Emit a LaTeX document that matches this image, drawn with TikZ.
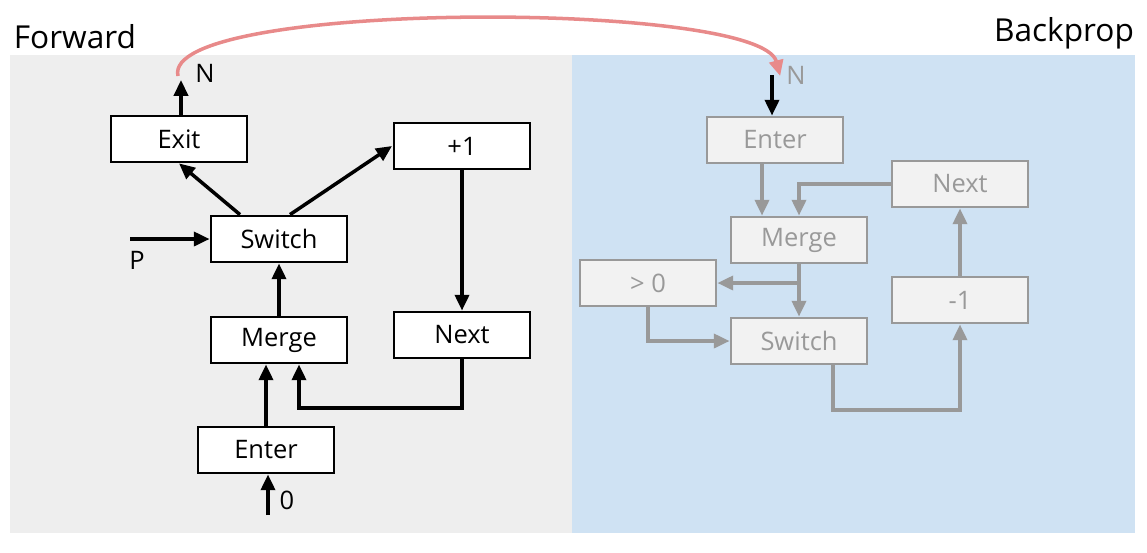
\documentclass[tikz,border=0pt]{standalone}
\usepackage{fontspec}
\setmainfont{Open Sans}
\usepackage{tikz}
\usetikzlibrary{arrows.meta,positioning}
\definecolor{panelgray}{HTML}{EEEEEE}
\definecolor{panelblue}{HTML}{CFE2F3}
\definecolor{ghost}{HTML}{999999}
\definecolor{boxfill}{HTML}{F2F2F2}
\definecolor{loopred}{HTML}{E88A8A}
\tikzset{
  op/.style={draw, line width=1.6pt, fill=white, minimum width=2.72cm, minimum height=0.92cm, inner sep=0pt, font=\fontsize{14.5}{16}\selectfont},
  gop/.style={op, draw=ghost, fill=boxfill, text=ghost},
  fwd/.style={-{Triangle[length=9pt,width=8pt]}, line width=2pt},
  bwd/.style={fwd, ghost},
  lbl/.style={font=\fontsize{14.5}{16}\selectfont}
}
\begin{document}
\begin{tikzpicture}[x=0.02cm,y=-0.02cm]
      \useasboundingbox (0,0) rectangle (1147,552);
      \fill[panelgray] (10,55) rectangle (572,533);
      \fill[panelblue] (572,55) rectangle (1135,533);
      \node[lbl, font=\fontsize{18}{20}\selectfont] (fw) at (75,37) {Forward};
      \node[lbl, font=\fontsize{18}{20}\selectfont] (bp) at (1064,33) {Backprop};

      % forward loop
      \node[op] (exit) at (179,139) {Exit};
      \node[op] (inc) at (462,146) {+1};
      \node[op] (sw) at (279,239) {Switch};
      \node[op] (mrg) at (279,340) {Merge};
      \node[op] (nxt) at (462,335) {Next};
      \node[op] (ent) at (266,450) {Enter};
      \coordinate (nout) at (181,80);
      \node[lbl] (nlab) at (205,73) {N};
      \coordinate (pin) at (130,239);
      \node[lbl] (plab) at (137,260) {P};
      \coordinate (zin) at (268,515);
      \node[lbl] (zlab) at (287,500) {0};

      \draw[fwd] (exit.north -| nout) -- (nout);
      \draw[fwd] (sw.north -| 240,0) -- (exit.south);
      \draw[fwd] (sw.north -| 290,0) -- (inc.west -| 392,0);
      \draw[fwd] (pin) -- (sw.west);
      \draw[fwd] (mrg) -- (sw);
      \draw[fwd] (inc) -- (nxt);
      \draw[fwd] (nxt.south) |- (299,408) -- (mrg.south -| 299,0);
      \draw[fwd] (ent.north) -- (mrg.south -| ent.north);
      \draw[fwd] (zin) -- (ent.south -| zin);

      % backprop loop
      \node[gop] (bent) at (775,140) {Enter};
      \node[gop] (bnxt) at (960,184) {Next};
      \node[gop] (bmrg) at (799,240) {Merge};
      \node[gop] (bgt) at (648,283) {> 0};
      \node[gop] (bdec) at (960,300) {-1};
      \node[gop] (bsw) at (799,341) {Switch};
      \coordinate (nin) at (772,75);
      \node[lbl, text=ghost] (nlab2) at (796,75) {N};

      \draw[fwd] (nin) -- (bent.north -| nin);
      \draw[bwd] (bent.south -| 762,0) -- (bmrg.north -| 762,0);
      \draw[bwd] (bnxt.west) -| (bmrg.north -| 799,0);
      \draw[bwd] (bmrg) -- (bsw);
      \draw[bwd] (799,283) -- (bgt.east);
      \draw[bwd] (bgt.south) |- (bsw.west);
      \draw[bwd] (bsw.south -| 833,0) |- (960,410) -- (bdec.south);
      \draw[bwd] (bdec) -- (bnxt);

      % handoff
      \draw[loopred, line width=2pt, -{Triangle[length=9pt,width=8pt]}] (178,76) .. controls (160,0) and (760,0) .. (nlab2.west |- 0,76);
\end{tikzpicture}
\end{document}
